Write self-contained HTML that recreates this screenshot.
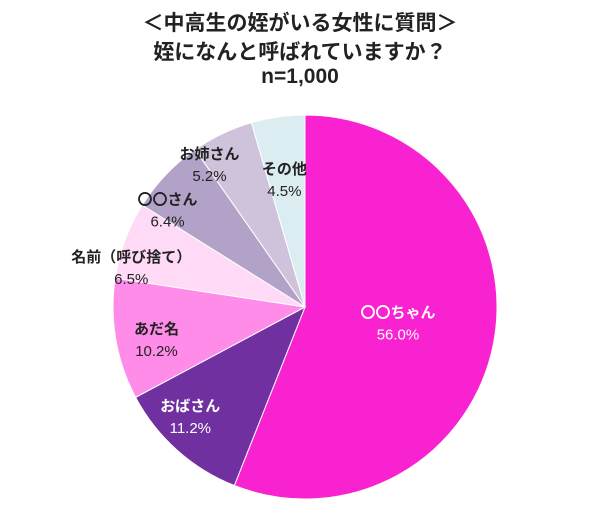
<!DOCTYPE html>
<html><head><meta charset="utf-8"><style>
body{margin:0;background:#fff;width:600px;height:524px;overflow:hidden;font-family:"Liberation Sans","Noto Sans CJK JP",sans-serif}
.t{position:absolute;left:0;width:600px;text-align:center;font-weight:bold;font-size:21px;color:#222}
</style></head><body>
<div class="t" style="top:7px">＜中高生の姪がいる女性に質問＞</div>
<div class="t" style="top:36px">姪になんと呼ばれていますか？</div>
<div class="t" style="top:65px">n=1,000</div>
<svg id="pie" width="600" height="524" style="position:absolute;left:0;top:0"></svg>
<script>
const categories=["〇〇ちゃん","おばさん","あだ名","名前（呼び捨て）","〇〇さん","お姉さん","その他"];
const values=[56.0,11.2,10.2,6.5,6.4,5.2,4.5];
const colors=["#f922d0","#7030a0","#ff8ce8","#ffdaf6","#b3a2c8","#cfc3dc","#dcedf2"];
const textColors=["#fff","#fff","#222","#222","#222","#222","#222"];
const labelDist=[0.49,0.82,0.79,0.93,0.88,0.9,0.68];
const labelAngleOffset=[-2,5,-2,-7,-8,-8,-1];
const svg=document.getElementById('pie');const NS='http://www.w3.org/2000/svg';
const cx=305,cy=307,r=192;
const total=values.reduce((a,b)=>a+b,0);
let a0=0;
values.forEach((v,i)=>{
 const a1=a0+v/total*2*Math.PI;
 const x0=cx+r*Math.sin(a0),y0=cy-r*Math.cos(a0),x1=cx+r*Math.sin(a1),y1=cy-r*Math.cos(a1);
 const p=document.createElementNS(NS,'path');
 p.setAttribute('d',`M${cx},${cy}L${x0},${y0}A${r},${r} 0 ${a1-a0>Math.PI?1:0} 1 ${x1},${y1}Z`);
 p.setAttribute('fill',colors[i]);p.setAttribute('stroke','#fff');p.setAttribute('stroke-width','1');
 
 
 svg.appendChild(p);
 const am=(a0+a1)/2+labelAngleOffset[i]*Math.PI/180,f=labelDist[i];
 const lx=cx+r*f*Math.sin(am),ly=cy-r*f*Math.cos(am);
 const g=document.createElementNS(NS,'text');
 g.setAttribute('x',lx);g.setAttribute('y',ly);g.setAttribute('text-anchor','middle');
 g.setAttribute('font-size','15');g.setAttribute('fill',textColors[i]);
 
 
 const s1=document.createElementNS(NS,'tspan');s1.setAttribute('x',lx);s1.setAttribute('dy','-4');s1.setAttribute('font-weight','bold');s1.textContent=categories[i];
 const s2=document.createElementNS(NS,'tspan');s2.setAttribute('x',lx);s2.setAttribute('dy','22');s2.textContent=v.toFixed(1)+'%';
 g.appendChild(s1);g.appendChild(s2);svg.appendChild(g);
 a0=a1;
});
</script>
</body></html>
